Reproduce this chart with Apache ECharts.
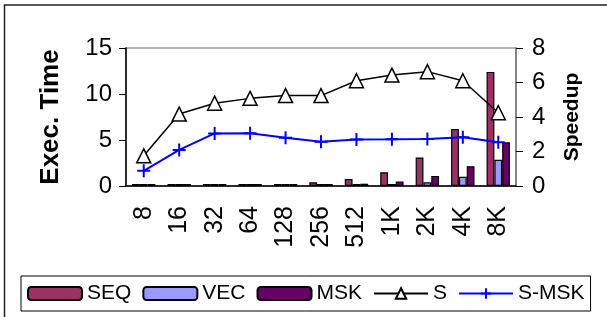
<!DOCTYPE html>
<html>
<head>
<meta charset="utf-8">
<script src="https://cdn.jsdelivr.net/npm/echarts@6/dist/echarts.min.js"></script>
<style>
html,body{margin:0;padding:0;background:#fff;}
#main{width:607px;height:317px;}
</style>
</head>
<body>
<div id="main"></div>
<script>
// 类别（数据规模）
var cats = ['8', '16', '32', '64', '128', '256', '512', '1K', '2K', '4K', '8K'];
// 执行时间（左轴）
var seq = [0.02, 0.03, 0.06, 0.1, 0.2, 0.4, 0.75, 1.5, 3.1, 6.2, 12.4];
var vec = [0.005, 0.008, 0.012, 0.02, 0.03, 0.05, 0.1, 0.2, 0.4, 1.0, 2.85];
var msk = [0.01, 0.015, 0.03, 0.05, 0.08, 0.13, 0.25, 0.5, 1.1, 2.15, 4.75];
// 加速比（右轴）
var s = [1.75, 4.17, 4.8, 5.08, 5.24, 5.24, 6.1, 6.43, 6.63, 6.1, 4.25];
var smsk = [0.88, 2.09, 3.05, 3.06, 2.8, 2.57, 2.7, 2.71, 2.73, 2.82, 2.53];

var FONT = '"Liberation Sans", Arial, sans-serif';
var myChart = echarts.init(document.getElementById('main'));

function barSeries(name, data, color) {
    return {
        name: name,
        type: 'bar',
        yAxisIndex: 0,
        data: data,
        barGap: '0%',
        barCategoryGap: '34%',
        barMinHeight: 2,
        itemStyle: {color: color, borderColor: '#000', borderWidth: 1.2}
    };
}

var option = {
    animation: false,
    textStyle: {fontFamily: FONT},
    graphic: [{
        type: 'rect',
        shape: {x: 4.5, y: 5, width: 640, height: 360},
        style: {fill: 'none', stroke: '#222', lineWidth: 1.5},
        silent: true
    }],
    legend: {
        left: 21,
        top: 276,
        padding: [7, 6],
        borderColor: '#000',
        borderWidth: 1,
        itemWidth: 54,
        itemHeight: 13,
        itemGap: 11,
        textStyle: {fontSize: 21, color: '#000', fontFamily: FONT},
        data: ['SEQ', 'VEC', 'MSK', 'S', 'S-MSK']
    },
    grid: {
        left: 126, right: 91, top: 48, bottom: 131,
        show: true, borderColor: '#999', borderWidth: 1.5
    },
    xAxis: {
        type: 'category',
        data: cats,
        axisLine: {lineStyle: {color: '#000', width: 1.5}},
        axisTick: {length: 8, lineStyle: {color: '#000'}},
        axisLabel: {rotate: 90, margin: 20, fontSize: 25, color: '#000', fontFamily: FONT}
    },
    yAxis: [{
        type: 'value',
        min: 0, max: 15, interval: 5,
        name: 'Exec. Time',
        nameLocation: 'middle',
        nameRotate: 90,
        nameGap: 62,
        nameTextStyle: {fontSize: 26, fontWeight: 'bold', color: '#000', fontFamily: FONT},
        axisLine: {show: true, lineStyle: {color: '#000', width: 1.5}},
        axisTick: {show: true, length: 7, lineStyle: {color: '#000'}},
        axisLabel: {fontSize: 24, color: '#000', margin: 14, fontFamily: FONT},
        splitLine: {show: false}
    }, {
        type: 'value',
        min: 0, max: 8, interval: 2,
        position: 'right',
        name: 'Speedup',
        nameLocation: 'middle',
        nameRotate: 90,
        nameGap: 46,
        nameTextStyle: {fontSize: 21, fontWeight: 'bold', color: '#000', fontFamily: FONT},
        axisLine: {show: true, lineStyle: {color: '#777', width: 1.5}},
        axisTick: {show: true, length: 7, lineStyle: {color: '#000'}},
        axisLabel: {fontSize: 24, color: '#000', margin: 16, fontFamily: FONT},
        splitLine: {show: false}
    }],
    series: [
        barSeries('SEQ', seq, '#993366'),
        barSeries('VEC', vec, '#9999FF'),
        barSeries('MSK', msk, '#660066'),
        {
            name: 'S',
            type: 'line',
            yAxisIndex: 1,
            data: s,
            symbol: 'triangle',
            symbolSize: [14, 14],
            lineStyle: {color: '#000', width: 1.5},
            itemStyle: {color: '#fff', borderColor: '#000', borderWidth: 1.5}
        },
        {
            name: 'S-MSK',
            type: 'line',
            yAxisIndex: 1,
            data: smsk,
            symbol: 'path://M0,6L12,6M6,0L6,12',
            symbolSize: [13, 13],
            lineStyle: {color: '#0000FF', width: 2},
            itemStyle: {color: '#0000FF', borderColor: '#0000FF', borderWidth: 2}
        }
    ]
};
myChart.setOption(option);
</script>
</body>
</html>
